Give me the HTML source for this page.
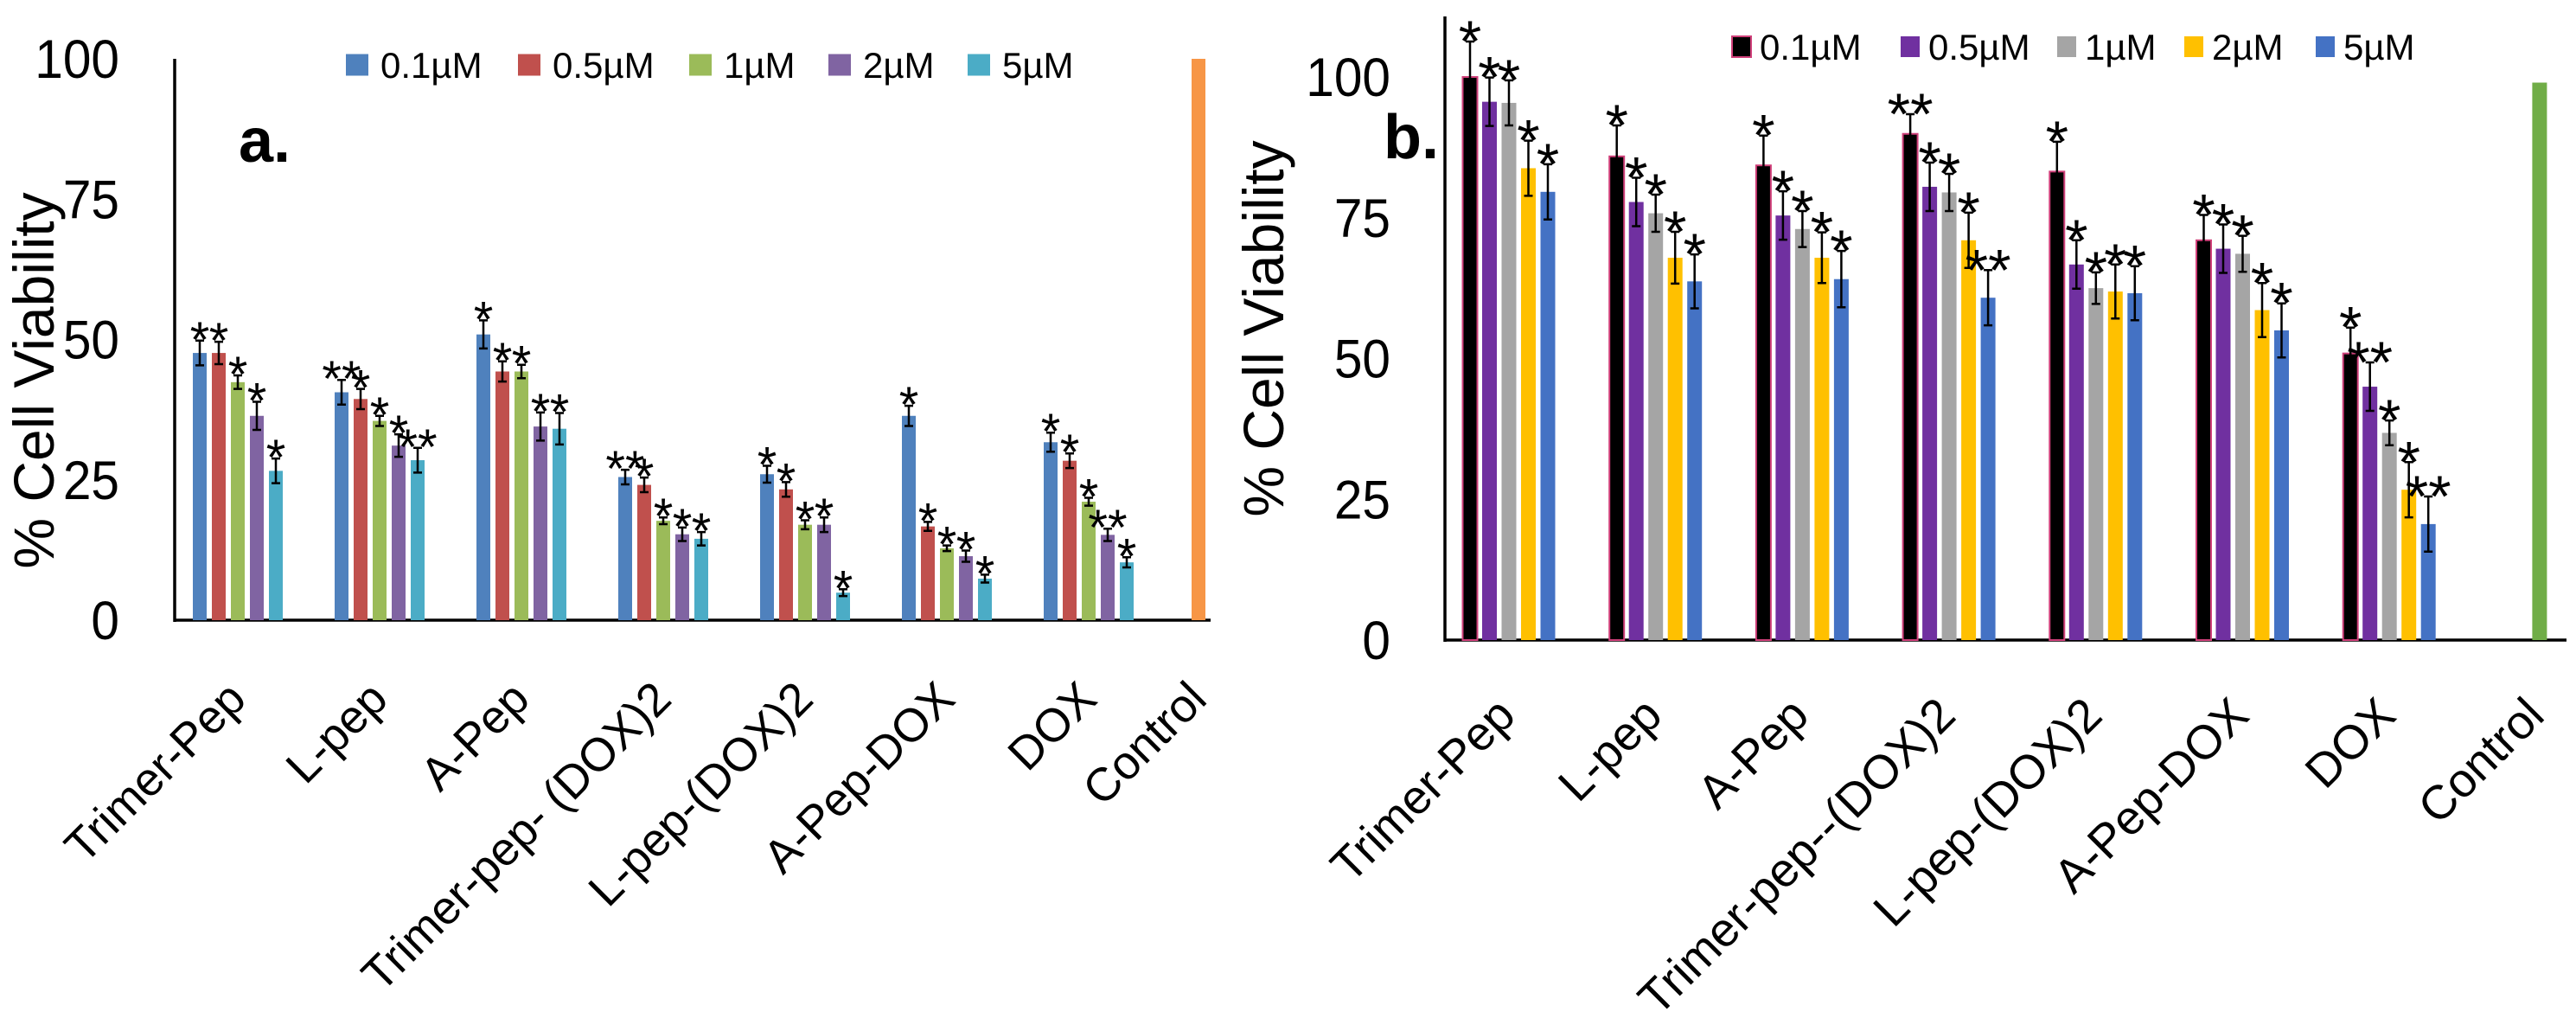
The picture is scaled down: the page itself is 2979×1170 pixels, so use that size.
<!DOCTYPE html>
<html><head><meta charset="utf-8"><style>
html,body{margin:0;padding:0;background:#fff;overflow:hidden}
svg{display:block;font-family:"Liberation Sans",sans-serif}
</style></head><body>
<svg id="c" width="2979" height="1170" viewBox="0 0 2979 1170" xmlns="http://www.w3.org/2000/svg">
<rect width="2979" height="1170" fill="#fff"/>
</svg>
<script>
const categories=["Trimer-Pep","L-pep","A-Pep","Trimer-pep- (DOX)2","L-pep-(DOX)2","A-Pep-DOX","DOX","Control"];
const categoriesB=["Trimer-Pep","L-pep","A-Pep","Trimer-pep--(DOX)2","L-pep-(DOX)2","A-Pep-DOX","DOX","Control"];
const seriesNames=["0.1µM","0.5µM","1µM","2µM","5µM"];
const yTicks=[0,25,50,75,100];
// panel a values
const aS1=[47.6,40.6,50.9,25.5,26,36.4,31.7];
const aS2=[47.6,39.4,44.3,24.1,23.3,16.7,28.4];
const aS3=[42.4,35.5,44.3,17.7,17,12.8,21.1];
const aS4=[36.4,31.1,34.5,15.3,17,11.4,15.2];
const aS5=[26.6,28.5,34.1,14.5,4.9,7.4,10.3];
const aE1=[2.2,2.2,2.5,1.3,1.5,1.8,1.7];
const aE2=[2,1.8,1.8,1.3,1.3,0.8,1.3];
const aE3=[1.2,0.9,1.2,0.6,0.8,0.5,0.7];
const aE4=[2.5,2,2.5,1.2,1.3,1,1.1];
const aE5=[2.2,2.2,2.8,1.2,0.6,0.7,0.9];
const aStars=[["*","*","*","*","*"],["**","*","*","*","**"],["*","*","*","*","*"],["**","*","*","*","*"],["*","*","*","*","*"],["*","*","*","*","*"],["*","*","*","**","*"]];
const aControl=100;
// panel b values
const bS1=[100,85.9,84.3,89.9,83.2,71,50.9];
const bS2=[95.6,77.8,75.4,80.5,66.7,69.5,45];
const bS3=[95.4,75.8,73,79.5,62.5,68.6,36.8];
const bS4=[83.8,67.9,67.9,71,61.9,58.6,26.7];
const bS5=[79.6,63.7,64.1,60.8,61.6,55,20.6];
const bE1=[6.3,5.5,5.3,3.5,5.3,4.5,4.6];
const bE2=[4.3,4.3,4.3,4.3,4.3,4.3,4.3];
const bE3=[4,3.3,3.2,3.3,2.8,3.2,2.2];
const bE4=[4.9,4.6,4.5,4.9,4.8,4.8,4.9];
const bE5=[4.9,4.8,5,4.9,4.8,4.8,4.9];
const bStars=[["*","*","*","*","*"],["*","*","*","*","*"],["*","*","*","*","*"],["**","*","*","*","**"],["*","*","*","*","*"],["*","*","*","*","*"],["*","**","*","*","**"]];
const bControl=99;

const NS="http://www.w3.org/2000/svg";
const svg=document.getElementById('c');
function mk(t,a,p){const e=document.createElementNS(NS,t);for(const k in a)e.setAttribute(k,a[k]);(p||svg).appendChild(e);return e;}

function panel(cfg){
  const g=mk('g',{});
  
  
  const y=v=>cfg.y0-v*cfg.ppu;
  const cx=i=>cfg.c0+cfg.band*i;
  yTicks.forEach(t=>{
    const tx=mk('text',{transform:`translate(${cfg.tickX},${y(t)+22}) scale(0.93,1)`,'text-anchor':'end','font-size':63,fill:'#000'},g);
    tx.textContent=t;
    
    
  });
  const ya=mk('line',{x1:cfg.axX,y1:cfg.axTop,x2:cfg.axX,y2:cfg.y0+2,stroke:'#000','stroke-width':3.5},g);
  
  
  const xa=mk('line',{x1:cfg.axX,y1:cfg.y0,x2:cfg.axEnd,y2:cfg.y0,stroke:'#000','stroke-width':3.5},g);
  
  
  for(let s=0;s<5;s++){
    for(let i=0;i<7;i++){
      const v=cfg.vals[s][i], e=cfg.errs[s][i];
      const x=cx(i)+(s-2)*cfg.step;
      const r=mk('rect',{x:x-cfg.bw/2,y:y(v),width:cfg.bw,height:cfg.y0-y(v),fill:cfg.colors[s]},g);
      if(cfg.stroke0&&s===0){r.setAttribute('stroke',cfg.stroke0);r.setAttribute('stroke-width',2);}
      
      
      const eb=mk('path',{d:`M${x},${y(v+e)}V${y(v-e)}M${x-5},${y(v+e)}H${x+5}M${x-5},${y(v-e)}H${x+5}`,stroke:'#000','stroke-width':2.5,fill:'none'},g);
      
      
      const st=mk('text',{x:x,y:y(v+e)+cfg.starDy,'text-anchor':'middle','font-size':cfg.starSize,fill:'#000'},g);
      st.textContent=cfg.stars[i][s];
      
      
    }
  }
  const cxv=cx(7)+cfg.ctrlOff;
  const cr=mk('rect',{x:cxv-cfg.bw/2,y:y(cfg.ctrl),width:cfg.bw,height:cfg.y0-y(cfg.ctrl),fill:cfg.ctrlColor},g);
  
  
  cfg.cats.forEach((c,i)=>{
    const lx=(i===7?cxv+cfg.ctrlLblDx:cx(i)+cfg.lblDx), ly=cfg.y0+cfg.lblDy;
    const t=mk('text',{transform:`translate(${lx},${ly}) rotate(-45)`,'text-anchor':'end','font-size':cfg.lblSize,fill:'#000'},g);
    t.textContent=c;
    
    
  });
  const yt=mk('text',{transform:`translate(${cfg.titleX},${cfg.titleY}) rotate(-90)`,'text-anchor':'middle','font-size':66,fill:'#000'},g);
  yt.textContent='% Cell Viability';
  
  
  const pl=mk('text',{x:cfg.letX,y:cfg.letY,'font-size':72,'font-weight':'bold',fill:'#000'},g);
  pl.textContent=cfg.letter;
  
  
  seriesNames.forEach((n,s)=>{
    const lg=mk('g',{},g);
    
    
    const sx=cfg.legX[s];
    const sq=mk('rect',{x:sx,y:cfg.legY-cfg.sqH/2,width:cfg.sqW,height:cfg.sqH,fill:cfg.colors[s]},lg);
    if(cfg.stroke0&&s===0){sq.setAttribute('stroke',cfg.stroke0);sq.setAttribute('stroke-width',2);}
    const lt=mk('text',{x:sx+cfg.legGap,y:cfg.legY+15,'font-size':42,fill:'#000'},lg);
    lt.textContent=n;
  });
}

panel({id:'panel-a',y0:717,ppu:6.49,c0:275,band:164,step:22,bw:16,tickX:138,axX:202,axTop:68,axEnd:1400,
  vals:[aS1,aS2,aS3,aS4,aS5],errs:[aE1,aE2,aE3,aE4,aE5],stars:aStars,starDy:19,starSize:58,
  colors:['#4f81bd','#c0504d','#9bbb59','#8064a2','#4bacc6'],ctrl:aControl,ctrlColor:'#f79646',ctrlOff:-37,ctrlLblDx:12,
  cats:categories,lblDx:12,lblDy:94,lblSize:54,titleX:62,titleY:440,letter:'a.',letX:276,letY:187,
  legX:[400,599,797,958,1119],legY:75,sqW:26,sqH:25,legGap:40});
panel({id:'panel-b',y0:740,ppu:6.51,c0:1745,band:169.7,step:22.5,bw:17,tickX:1608,axX:1671,axTop:19,axEnd:2968,
  vals:[bS1,bS2,bS3,bS4,bS5],errs:[bE1,bE2,bE3,bE4,bE5],stars:bStars,starDy:23,starSize:68,
  colors:['#000000','#7030a0','#a5a5a5','#ffc000','#4472c4'],stroke0:'#d0407a',ctrl:bControl,ctrlColor:'#70ad47',ctrlOff:4,ctrlLblDx:8,
  cats:categoriesB,lblDx:10,lblDy:90,lblSize:55,titleX:1484,titleY:380,letter:'b.',letX:1600,letY:183,
  legX:[2003,2198,2379,2526,2678],legY:54,sqW:22,sqH:24,legGap:32});
</script>
</body></html>
